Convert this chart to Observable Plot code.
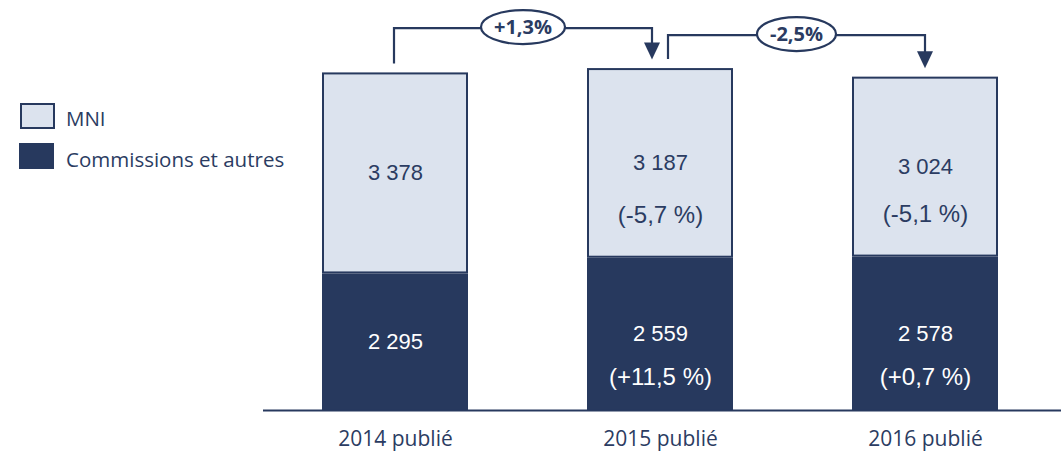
<!DOCTYPE html>
<html><head><meta charset="utf-8">
<script src="https://cdn.jsdelivr.net/npm/d3@7"></script>
<script src="https://cdn.jsdelivr.net/npm/@observablehq/plot@0.6"></script>
<style>
body{margin:0;background:#fff;}
#wrap{position:relative;width:1061px;height:452px;overflow:hidden;}
.sw{position:absolute;box-sizing:border-box;width:35px;height:26px;}
.lab{position:absolute;font-family:"Open Sans",sans-serif;font-size:20.5px;color:#2B3C62;height:28px;line-height:28px;white-space:nowrap;}
</style></head><body><div id="wrap"></div>
<script>
const categories = ["2014 publié", "2015 publié", "2016 publié"];
const seriesNames = ["MNI", "Commissions et autres"];
const mni = [3378, 3187, 3024];
const commissions = [2295, 2559, 2578];
const mniChange = [null, "(-5,7 %)", "(-5,1 %)"];
const commChange = [null, "(+11,5 %)", "(+0,7 %)"];
const totalChange = ["+1,3%", "-2,5%"];

const navy = "#27395E";
const light = "#DCE3EE";
const textNavy = "#2B3C62";
const fmt = d3.formatLocale({thousands: " ", grouping: [3], decimal: ",", currency: ["", ""]}).format(",d");

const totals = categories.map((c, i) => mni[i] + commissions[i]);
const rows = categories.map((c, i) => ({cat: c, mni: mni[i], comm: commissions[i], total: totals[i], mniCh: mniChange[i], commCh: commChange[i]}));

const plot = Plot.plot({
  width: 1061,
  height: 452,
  marginLeft: 263,
  marginRight: 3,
  marginTop: 0,
  marginBottom: 42,
  style: {fontFamily: "Open Sans", color: textNavy, background: "#fff", overflow: "visible"},
  x: {domain: categories, paddingInner: 0.4485, paddingOuter: 0.224, label: null},
  y: {domain: [0, 6890], axis: null},
  marks: [
    Plot.barY(rows, {x: "cat", y1: 0, y2: "comm", fill: navy}),
    Plot.barY(rows, {x: "cat", y1: "comm", y2: "total", fill: light, stroke: navy, strokeWidth: 2, inset: 1}),
    Plot.ruleY([0], {stroke: navy, strokeWidth: 2, insetRight: -3}),
    Plot.axisX({tickSize: 0, tickPadding: 21, fontSize: 21, fontFamily: "Open Sans", fill: textNavy}),
    Plot.text(rows, {x: "cat", y: d => d.comm + d.mni / 2, text: d => fmt(d.mni), fill: textNavy, fontSize: 22, fontFamily: "Liberation Sans"}),
    Plot.text(rows, {x: "cat", y: d => d.comm / 2, text: d => fmt(d.comm), fill: "#fff", fontSize: 22, fontFamily: "Liberation Sans"}),
    Plot.text(rows.filter(d => d.mniCh), {x: "cat", y: "comm", dy: -43, text: "mniCh", fill: textNavy, fontSize: 24, fontFamily: "Liberation Sans"}),
    Plot.text(rows.filter(d => d.commCh), {x: "cat", y: 0, dy: -33, text: "commCh", fill: "#fff", fontSize: 24, fontFamily: "Liberation Sans"})
  ]
});

const wrap = document.getElementById("wrap");
wrap.appendChild(plot);

// change brackets drawn with the plot's own scales
const sx = plot.scale("x"), sy = plot.scale("y");
const bw = sx.bandwidth || 0;
const cx = c => sx.apply(c) + bw / 2;
const gB = d3.select(plot).append("g").attr("class", "brackets");
const yTop = Math.min(...totals.map(t => sy.apply(t)));
totalChange.forEach((label, i) => {
  const a = categories[i], b = categories[i + 1];
  const xs = cx(a) + (i > 0 ? 8 : -1);
  const xe = cx(b) - (i + 1 < categories.length - 1 ? 8 : 0);
  const ys = sy.apply(totals[i]) - 9;
  const ye = sy.apply(totals[i + 1]) - 8.5;
  const yl = yTop - 40 + 7 * i;
  gB.append("path").attr("d", `M${xs},${ys}V${yl}H${xe}V${ye - 15}`)
    .attr("fill", "none").attr("stroke", navy).attr("stroke-width", 2.2);
  gB.append("path").attr("d", `M${xe - 8},${ye - 17}L${xe + 8},${ye - 17}L${xe},${ye}Z`).attr("fill", navy);
  const mx = (xs + xe) / 2;
  const pill = gB.append("ellipse").attr("cx", mx).attr("cy", yl - 1).attr("rx", 40).attr("ry", 17)
    .attr("fill", "#fff").attr("stroke", navy).attr("stroke-width", 2.2);
  const t = gB.append("text").attr("x", mx).attr("y", yl - 1).attr("dy", "0.36em")
    .attr("text-anchor", "middle").attr("font-family", "Open Sans").attr("font-weight", "bold")
    .attr("font-size", 20).attr("fill", textNavy).text(label);
  const w = t.node().getBBox().width;
  if (w > 0) pill.attr("rx", w / 2 + 13);
});

// legend
const legendItems = [
  {name: seriesNames[0], fill: light, border: `2px solid ${navy}`, left: 20, top: 103, ly: 104},
  {name: seriesNames[1], fill: navy, border: "none", left: 19, top: 143, ly: 145}
];
legendItems.forEach(l => {
  const s = document.createElement("div");
  s.className = "sw";
  s.style.left = l.left + "px"; s.style.top = l.top + "px";
  s.style.background = l.fill; s.style.border = l.border;
  wrap.appendChild(s);
  const t = document.createElement("div");
  t.className = "lab";
  t.style.left = "66px"; t.style.top = l.ly + "px";
  t.textContent = l.name;
  wrap.appendChild(t);
});
</script></body></html>
